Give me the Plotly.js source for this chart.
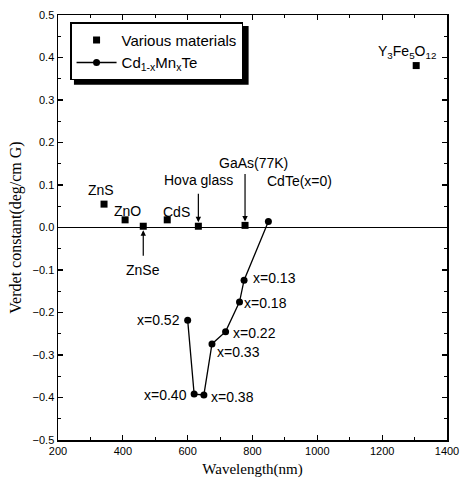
<!DOCTYPE html>
<html>
<head>
<meta charset="utf-8">
<script src="https://cdn.plot.ly/plotly-3.0.1.min.js"></script>
<style>html,body{margin:0;padding:0;background:#fff;}#chart{width:460px;height:486px;}</style>
</head>
<body>
<div id="chart"></div>
<script>
// Various materials (squares)
var matNames = ["ZnS", "ZnO", "ZnSe", "CdS", "Hoya glass", "GaAs(77K)", "Y3Fe5O12"];
var matWavelength = [342, 407, 463, 537, 633, 777, 1305];
var matVerdet = [0.055, 0.018, 0.003, 0.018, 0.003, 0.005, 0.381];

// Cd1-xMnxTe (circles, connected)
var cmtX = ["x=0", "x=0.13", "x=0.18", "x=0.22", "x=0.33", "x=0.38", "x=0.40", "x=0.52"];
var cmtWavelength = [849, 774, 760, 717, 675, 650, 620, 600];
var cmtVerdet = [0.014, -0.124, -0.175, -0.245, -0.274, -0.394, -0.392, -0.218];

// label positions (data coords) for text labels
var labelText = ["ZnS", "ZnO", "CdS", "Hova glass", "GaAs(77K)", "CdTe(x=0)", "Y<sub>3</sub>Fe<sub>5</sub>O<sub>12</sub>", "ZnSe",
                 "x=0.13", "x=0.18", "x=0.22", "x=0.33", "x=0.38", "x=0.40", "x=0.52"];
var labelX = [333, 413, 564, 632, 802, 944, 1277, 462, 867, 839, 805, 756, 739, 533, 509];
var labelY = [0.088, 0.039, 0.036, 0.112, 0.152, 0.109, 0.413, -0.100, -0.118, -0.177, -0.2475, -0.294, -0.398, -0.395, -0.2176];

var sans = "Liberation Sans, Arial, sans-serif";
var serif = "Liberation Serif, Times New Roman, serif";

var traces = [
  {
    type: "scatter", mode: "markers", name: "Various materials",
    x: matWavelength, y: matVerdet, text: matNames,
    marker: {symbol: "square", size: 7, color: "#000"},
    hoverinfo: "text+x+y"
  },
  {
    type: "scatter", mode: "lines+markers", name: "Cd<sub>1-x</sub>Mn<sub>x</sub>Te",
    x: cmtWavelength, y: cmtVerdet, text: cmtX,
    line: {color: "#000", width: 1.3},
    marker: {symbol: "circle", size: 7, color: "#000"},
    hoverinfo: "text+x+y"
  }
];

var annotations = [];
for (var i = 0; i < labelText.length; i++) {
  annotations.push({
    x: labelX[i], y: labelY[i], xref: "x", yref: "y",
    text: labelText[i], showarrow: false,
    font: {family: sans, size: 14, color: "#000"},
    xanchor: "center", yanchor: "middle"
  });
}
// arrows: Hoya glass, GaAs, ZnSe (point to the materials)
annotations.push({x: matWavelength[4], y: matVerdet[4], xref: "x", yref: "y", text: "", showarrow: true,
  arrowhead: 2, arrowsize: 0.9, arrowwidth: 1.2, arrowcolor: "#000", ax: 0, ay: -34, standoff: 4});
annotations.push({x: matWavelength[5], y: matVerdet[5], xref: "x", yref: "y", text: "", showarrow: true,
  arrowhead: 2, arrowsize: 0.9, arrowwidth: 1.2, arrowcolor: "#000", ax: 0, ay: -53, standoff: 4});
annotations.push({x: matWavelength[2], y: matVerdet[2], xref: "x", yref: "y", text: "", showarrow: true,
  arrowhead: 2, arrowsize: 0.9, arrowwidth: 1.2, arrowcolor: "#000", ax: 0, ay: 31, standoff: 4});

var layout = {
  width: 460, height: 486,
  margin: {l: 58, r: 13, t: 15, b: 46},
  paper_bgcolor: "#fff", plot_bgcolor: "#fff",
  showlegend: true,
  legend: {
    x: 0.031, y: 0.983, xanchor: "left", yanchor: "top",
    bgcolor: "#fff", bordercolor: "#000", borderwidth: 1.5,
    font: {family: sans, size: 15, color: "#000"},
    tracegroupgap: 0, itemwidth: 40
  },
  xaxis: {
    range: [200, 1400], dtick: 200, tick0: 200,
    ticks: "inside", ticklen: 5, tickwidth: 1.2, tickcolor: "#000",
    minor: {dtick: 100, ticks: "inside", ticklen: 3, tickwidth: 1, tickcolor: "#000"},
    showline: true, linecolor: "#000", linewidth: 1.5, mirror: "ticks",
    showgrid: false, zeroline: false,
    tickfont: {family: sans, size: 11, color: "#000"},
    title: {text: "Wavelength(nm)", font: {family: serif, size: 15, color: "#000"}, standoff: 8}
  },
  yaxis: {
    range: [-0.5, 0.5], dtick: 0.1, tick0: 0, tickformat: ".1f",
    ticks: "inside", ticklen: 5, tickwidth: 1.2, tickcolor: "#000",
    minor: {dtick: 0.05, ticks: "inside", ticklen: 3, tickwidth: 1, tickcolor: "#000"},
    showline: true, linecolor: "#000", linewidth: 1.5, mirror: "ticks",
    showgrid: false, zeroline: true, zerolinecolor: "#000", zerolinewidth: 1.5,
    tickfont: {family: sans, size: 11, color: "#000"},
    title: {text: "Verdet constant(deg/cm G)", font: {family: serif, size: 16, color: "#000"}, standoff: 7}
  },
  annotations: annotations,
  shapes: [
    {type: "rect", xref: "paper", yref: "paper", layer: "above",
     x0: 0.041, x1: 0.49, y0: 0.836, y1: 0.974,
     fillcolor: "#000", line: {width: 0}}
  ]
};

Plotly.newPlot("chart", traces, layout, {displayModeBar: false, staticPlot: true});
</script>
</body>
</html>
